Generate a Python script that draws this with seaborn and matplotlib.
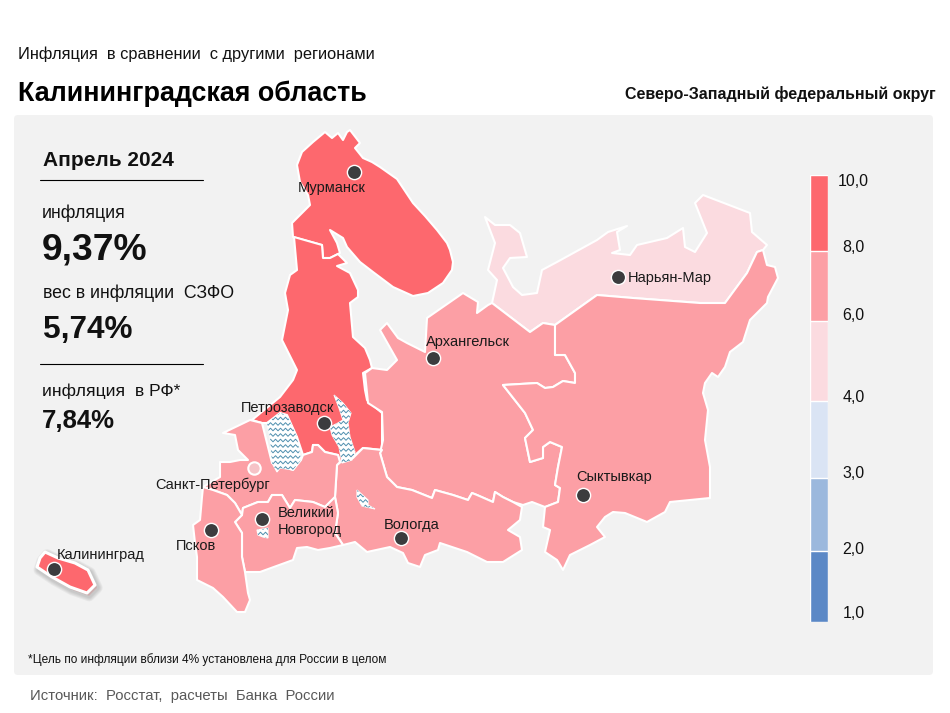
import numpy as np
import pandas as pd
import matplotlib
matplotlib.use('Agg')
import matplotlib.pyplot as plt
import matplotlib.patheffects as pe
from matplotlib.patches import FancyBboxPatch, Polygon
import seaborn as sns

# colour bands of the scale
band_tops = [10, 8, 6, 4, 3, 2]
band_colors = ['#fd686e', '#fc9fa5', '#fbdbe0', '#dae4f4', '#9bb8dd', '#5b88c6']
band_labels = ['10,0', '8,0', '6,0', '4,0', '3,0', '2,0', '1,0']

# region outlines, (x, y) in image pixels
murmansk = [(325,132),(332,138),(338,133),(343,140),(347,132),(350,130),(360,143),(355,148),(363,158),(372,162),
            (380,167),(397,179),(405,191),(413,203),(425,216),(437,230),(447,243),(450,250),(453,262),(452,270),(443,283),
            (428,293),(413,296),(393,287),(373,272),(360,262),(347,247),(343,238),(330,230),(337,243),(340,253),
            (330,258),(323,258),(322,245),(293,237),(292,223),(310,205),(308,195),(300,182),(297,165),(302,152),(313,142)]
karelia = [(294,237),(322,245),(323,258),(330,258),(338,254),(347,263),(337,266),(350,273),(358,290),(358,297),
           (350,303),(353,337),(365,348),(370,360),(372,368),(363,373),(365,390),(367,400),(382,413),(382,450),
           (363,448),(355,455),(345,462),(340,462),(338,455),(325,452),(318,445),(313,445),(312,452),(303,455),
           (297,437),(287,415),(280,413),(267,423),(262,423),(252,420),(280,397),(293,380),(297,370),(282,340),
           (288,310),(285,293),(290,275),(297,270)]
arkhangelsk = [(427,318),(463,293),(478,302),(477,313),(488,305),(492,303),(530,332),(543,323),(555,325),(555,355),
               (565,355),(575,373),(575,383),(563,381),(553,387),(545,388),(537,383),(503,385),(525,413),(533,430),
               (525,438),(530,462),(543,458),(543,447),(550,442),(562,447),(558,467),(555,485),(560,488),(558,502),
               (545,507),(532,502),(523,505),(513,502),(503,497),(495,492),(493,502),(477,495),(472,493),(468,500),
               (453,495),(435,490),(432,498),(412,490),(397,487),(387,477),(380,453),(383,440),(382,412),(368,403),
               (365,373),(372,368),(387,370),(397,360),(380,330),(387,323),(398,338),(407,343),(425,352)]
komi = [(555,325),(597,295),(633,298),(700,303),(725,303),(747,273),(757,252),(763,250),(767,265),(775,267),
        (778,278),(768,297),(767,303),(750,320),(743,342),(730,352),(725,367),(718,377),(712,373),(705,383),
        (703,393),(708,410),(705,440),(710,467),(710,498),(670,502),(665,512),(647,522),(625,513),(613,512),
        (605,517),(597,527),(605,537),(590,545),(570,555),(563,570),(557,560),(545,552),(550,530),(543,527),
        (545,507),(558,502),(560,488),(555,485),(558,467),(562,447),(550,442),(543,447),(543,458),(530,462),
        (525,438),(533,430),(525,413),(503,385),(537,383),(545,388),(553,387),(563,381),(575,383),(575,373),
        (565,355),(555,355)]
nenets = [(485,217),(495,225),(510,225),(520,233),(527,257),(510,258),(503,268),(513,287),(522,295),(537,293),
          (542,270),(557,262),(597,240),(608,232),(627,226),(617,232),(620,250),(612,253),(630,255),(637,245),
          (667,238),(683,228),(685,247),(695,252),(707,233),(695,203),(703,195),(750,213),(752,232),(767,245),
          (763,250),(757,252),(747,273),(725,303),(700,303),(633,298),(597,295),(555,325),(543,323),(530,332),
          (492,303),(497,280),(488,270),(495,243)]
vologda = [(382,450),(380,453),(387,477),(397,487),(412,490),(432,498),(435,490),(453,495),(468,500),(472,493),
           (477,495),(493,502),(495,492),(503,497),(513,502),(522,507),(520,520),(508,530),(520,537),(522,550),
           (503,562),(487,562),(467,552),(440,543),(438,550),(425,555),(420,567),(408,563),(403,553),(390,547),
           (367,552),(355,542),(343,545),(335,533),(338,513),(335,497),(337,465),(343,460),(353,458),(363,448)]
leningrad = [(223,433),(250,420),(262,423),(272,463),(293,470),(301,460),(303,455),(312,452),(313,445),(318,445),
             (325,452),(338,455),(340,462),(337,465),(335,497),(325,507),(313,502),(295,500),(290,508),(282,495),
             (272,495),(268,502),(258,502),(243,508),(242,515),(235,503),(227,495),(213,490),(203,487),(220,477),
             (220,462),(230,462),(240,460),(248,460),(238,450),(235,435)]
novgorod = [(335,497),(325,507),(313,502),(295,500),(290,508),(282,495),(272,495),(268,502),(258,502),(243,508),
            (242,515),(235,522),(242,533),(242,557),(245,572),(260,572),(293,560),(297,548),(307,547),(318,550),
            (330,548),(343,545),(335,533),(338,513)]
pskov = [(193,525),(200,520),(202,497),(203,487),(213,490),(227,495),(235,503),(242,515),(235,522),(242,533),
         (242,557),(245,572),(248,593),(250,600),(245,612),(237,612),(223,597),(213,588),(197,580),(197,557),(195,543)]
kaliningrad = [(45,552),(58,558),(75,563),(88,570),(95,585),(87,593),(70,587),(52,577),(37,567),(40,558)]

# lakes
ladoga = [(267,423),(280,413),(287,415),(297,437),(301,460),(293,470),(280,468),(277,472),(272,463),(270,437)]
onega = [(334,395),(343,403),(351,413),(348,423),(350,437),(355,452),(352,460),(342,463),(339,447),(332,435),(330,427),(338,423),(343,420),(339,408)]
ilmen = [(257,530),(268,528),(268,538),(263,537),(258,535)]
beloye = [(357,490),(368,500),(368,505),(375,509),(362,506),(357,497)]

regions = [(murmansk, 0), (karelia, 0), (nenets, 2), (arkhangelsk, 1), (komi, 1), (vologda, 1),
           (leningrad, 1), (novgorod, 1), (pskov, 1)]

cities = pd.DataFrame({
    'x': [354, 618, 433, 324, 583, 401, 262, 211, 54],
    'y': [172, 277, 358, 423, 495, 538, 519, 530, 569],
})
city_labels = [('Мурманск', 298, 188), ('Нарьян-Мар', 628, 278), ('Архангельск', 426, 342),
               ('Петрозаводск', 241, 408), ('Санкт-Петербург', 155, 485), ('Великий', 278, 513),
               ('Новгород', 278, 530), ('Псков', 176, 546), ('Вологда', 384, 525),
               ('Сыктывкар', 576, 477), ('Калининград', 57, 555)]

sns.set_theme(style='white')
plt.rcParams['font.family'] = ['Liberation Sans', 'DejaVu Sans']

fig = plt.figure(figsize=(9.5, 7.13), dpi=100, facecolor='white')
ax = fig.add_axes([0, 0, 1, 1])
ax.set_xlim(0, 950)
ax.set_ylim(713, 0)
ax.axis('off')

ax.add_patch(FancyBboxPatch((14, 115), 919, 560, boxstyle='round,pad=0,rounding_size=4',
                            fc='#f2f2f2', ec='none', zorder=0))

# map
for outline, band in regions:
    xs, ys = zip(*outline)
    ax.fill(xs, ys, fc=band_colors[band], ec='white', lw=1.5, joinstyle='round', zorder=2)

# Kaliningrad sits on a soft shadow
xs, ys = zip(*kaliningrad)
kal = ax.fill(xs, ys, fc=band_colors[0], ec='white', lw=2.2, joinstyle='round', zorder=2)[0]
kal.set_path_effects([pe.Stroke(linewidth=w, foreground='#555555', alpha=0.07, offset=(1.5, -2)) for w in (8, 6.5, 5, 3.5)]
                     + [pe.Normal()])

# lakes: white with blue wavy rows
for lake in [ladoga, onega, ilmen, beloye]:
    patch = Polygon(lake, closed=True, fc='white', ec='white', lw=0.8, zorder=3)
    ax.add_patch(patch)
    arr = np.array(lake)
    for row in np.arange(arr[:, 1].min(), arr[:, 1].max() + 5, 5.5):
        zx = np.arange(arr[:, 0].min() - 4, arr[:, 0].max() + 5, 2.5)
        zy = row + 1.3 * (-1.0) ** np.arange(len(zx))
        line, = ax.plot(zx, zy, color='#4f8fae', lw=0.7, zorder=4)
        line.set_clip_path(patch)

# St Petersburg marker
sns.scatterplot(x=[254], y=[468], s=80, color='#f6c3c7', edgecolor='white', linewidth=1.5, ax=ax, zorder=5, legend=False)
sns.scatterplot(data=cities, x='x', y='y', s=105, color='#3c3c3e', edgecolor='white', linewidth=1.0, ax=ax, zorder=6, legend=False)
ax.set_xlim(0, 950)
ax.set_ylim(713, 0)
ax.axis('off')

for name, x, y in city_labels:
    ax.text(x, y, name, fontsize=10.5, color='#1a1a1a', va='center', ha='left', zorder=7)

# header
ax.text(18, 54, 'Инфляция  в сравнении  с другими  регионами', fontsize=11.8, color='#111111', va='center')
ax.text(18, 94, 'Калининградская область', fontsize=19.4, fontweight='bold', color='black', va='center')
ax.text(936, 94, 'Северо-Западный федеральный округ', fontsize=11.5, fontweight='bold', color='#111111', va='center', ha='right')

# left column
ax.text(43, 160, 'Апрель 2024', fontsize=15, fontweight='bold', color='#111111', va='center')
ax.plot([40, 203], [180, 180], color='black', lw=0.8)
ax.text(42, 213, 'инфляция', fontsize=12.8, color='#111111', va='center')
ax.text(42, 250, '9,37%', fontsize=26.8, fontweight='bold', color='#111111', va='center')
ax.text(43, 293, 'вес в инфляции  СЗФО', fontsize=12.8, color='#111111', va='center')
ax.text(43, 330, '5,74%', fontsize=22.7, fontweight='bold', color='#111111', va='center')
ax.plot([40, 203], [364, 364], color='black', lw=0.8)
ax.text(42, 391, 'инфляция  в РФ*', fontsize=12.6, color='#111111', va='center')
ax.text(42, 421, '7,84%', fontsize=18.5, fontweight='bold', color='#111111', va='center')

ax.text(28, 660, '*Цель по инфляции вблизи 4% установлена для России в целом', fontsize=8.6, color='#111111', va='center')
ax.text(30, 696, 'Источник:  Росстат,  расчеты  Банка  России', fontsize=10.7, color='#595959', va='center')

# colour scale, bars overdrawn from the tallest down
scale_values = [1, 2, 3, 4, 6, 8, 10]
scale_pos = [0, 71, 144, 221.3, 301, 371.3, 447]
cax = fig.add_axes([810 / 950, 1 - 622 / 713, 18 / 950, 447 / 713])
cax.set_yscale('function', functions=(lambda v: np.interp(v, scale_values, scale_pos),
                                      lambda p: np.interp(p, scale_pos, scale_values)))
for top, color in zip(band_tops, band_colors):
    sns.barplot(x=['scale'], y=[top], color=color, width=1, saturation=1, ax=cax)
cax.set_ylim(1, 10)
cax.set_xlim(-0.5, 0.5)
cax.axis('off')

label_y = [181, 248, 316, 397, 474, 550, 613]
for lab, y in zip(band_labels, label_y):
    ax.text(853.5, y, lab, fontsize=11.5, color='#111111', va='center', ha='center')

fig.savefig('out.png', dpi=100, facecolor='white')
